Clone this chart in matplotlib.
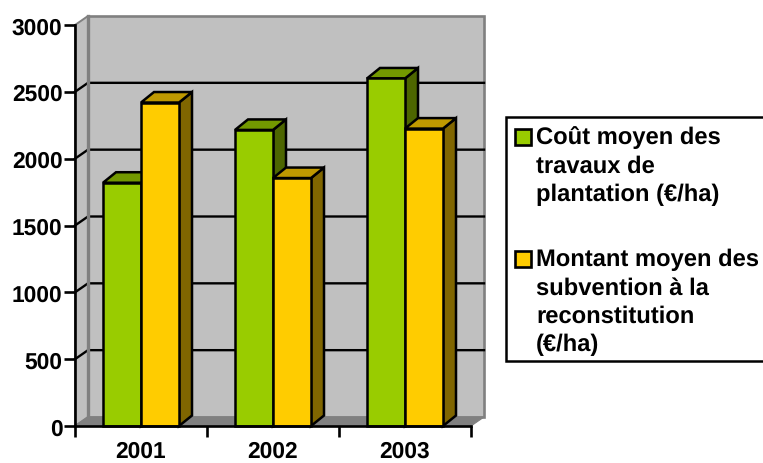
import matplotlib
matplotlib.use("Agg")
import matplotlib.pyplot as plt
from matplotlib.patches import Polygon, Rectangle

years = ["2001", "2002", "2003"]
cout = [1820, 2215, 2600]
subvention = [2420, 1855, 2225]
yticks = [0, 500, 1000, 1500, 2000, 2500, 3000]

W, H = 763, 464
FS = 16.4
FS_LEG = 17.1
plt.rcParams["font.family"] = ["Liberation Sans", "DejaVu Sans"]
plt.rcParams["font.weight"] = "bold"
plt.rcParams["text.hinting"] = "none"

fig = plt.figure(figsize=(W / 100, H / 100), dpi=100)
fig.patch.set_facecolor("white")

# axe principal : face avant du graphique 3D
ax = fig.add_axes([75 / W, 37 / H, 396 / W, 401 / H])
ax.set_xlim(0, 3)
ax.set_ylim(0, 3000)
ax.patch.set_visible(False)
for s in ["top", "right"]:
    ax.spines[s].set_visible(False)
for s in ["left", "bottom"]:
    ax.spines[s].set_linewidth(1.9)
    ax.spines[s].set_zorder(20)

# profondeur en unites de donnees
dx = 13 / 132
dy = 9 * 3000 / 401
dy_bar = 10.5 * 3000 / 401
LW = 1.8


def poly(pts, fc, ec="black", lw=LW, z=5):
    ax.add_patch(Polygon(pts, closed=True, facecolor=fc, edgecolor=ec,
                         linewidth=lw, zorder=z, clip_on=False, joinstyle="miter"))


# murs et sol
poly([(dx, dy), (3 + dx, dy), (3 + dx, 3000 + dy), (dx, 3000 + dy)], "#c0c0c0", "#808080", 1.9, 1)
poly([(0, 0), (dx, dy), (dx, 3000 + dy), (0, 3000)], "#c0c0c0", "#808080", 1.4, 1)
poly([(0, 0), (3, 0), (3 + dx, dy), (dx, dy)], "#808080", "#808080", 0.8, 1)

# lignes de grille
for v in yticks[1:-1]:
    ax.plot([0, dx, 3 + dx], [v, v + dy, v + dy], color="black", lw=1.7, zorder=2,
            clip_on=False, solid_joinstyle="miter")
# la grille ne passe pas sur l'arete grise du mur
ax.plot([dx, dx], [0 + dy, 3000 + dy], color="#808080", lw=2.4, zorder=3, clip_on=False)


def bar3d(x0, x1, v, front, top, side, z):
    poly([(x1, 0), (x1 + dx, dy_bar), (x1 + dx, v + dy_bar), (x1, v)], side, z=z)
    poly([(x0, v), (x1, v), (x1 + dx, v + dy_bar), (x0 + dx, v + dy_bar)], top, z=z)
    ax.bar(x0, v, width=x1 - x0, align="edge", color=front, edgecolor="black",
           linewidth=LW, zorder=z, clip_on=False)


bw = 38 / 132
off = 28 / 132
for i in range(len(years)):
    bar3d(i + off, i + off + bw, cout[i], "#99cc00", "#739900", "#4d6600", 6 + i * 2)
    bar3d(i + off + bw, i + off + 2 * bw, subvention[i], "#ffcc00", "#bf9900", "#806600", 7 + i * 2)

ax.set_yticks(yticks)
ax.set_yticklabels([str(v) for v in yticks], fontsize=FS, fontweight="bold")
ax.tick_params(axis="y", length=8, width=1.9, pad=1)
ax.set_xticks([0, 1, 2, 3])
ax.set_xticklabels([])
ax.tick_params(axis="x", length=8, width=1.9)
for i, y in enumerate(years):
    ax.text(i + 0.5, -0.063, y, transform=ax.get_xaxis_transform(), ha="center", va="center",
            fontsize=FS, fontweight="bold")

# legende en coordonnees pixels
leg = fig.add_axes([0, 0, 1, 1])
leg.set_xlim(0, W)
leg.set_ylim(H, 0)
leg.axis("off")
leg.patch.set_visible(False)
leg.add_patch(Rectangle((506, 118), 262, 244, facecolor="white", edgecolor="black",
                        linewidth=1.8, clip_on=True))
leg.add_patch(Rectangle((514.5, 130), 16, 15.5, facecolor="#99cc00", edgecolor="black", linewidth=1.9))
leg.add_patch(Rectangle((514.5, 252), 16, 15.5, facecolor="#ffcc00", edgecolor="black", linewidth=1.9))
lines_a = ["Coût moyen des", "travaux de", "plantation (€/ha)"]
lines_b = ["Montant moyen des", "subvention à la", "reconstitution", "(€/ha)"]
for j, t in enumerate(lines_a):
    leg.text(536, 138 + j * 28.3, t, fontsize=FS_LEG, fontweight="bold", va="center", ha="left")
for j, t in enumerate(lines_b):
    leg.text(536, 260 + j * 28.3, t, fontsize=FS_LEG, fontweight="bold", va="center", ha="left")

fig.savefig("out.png", dpi=100)
plt.close(fig)
